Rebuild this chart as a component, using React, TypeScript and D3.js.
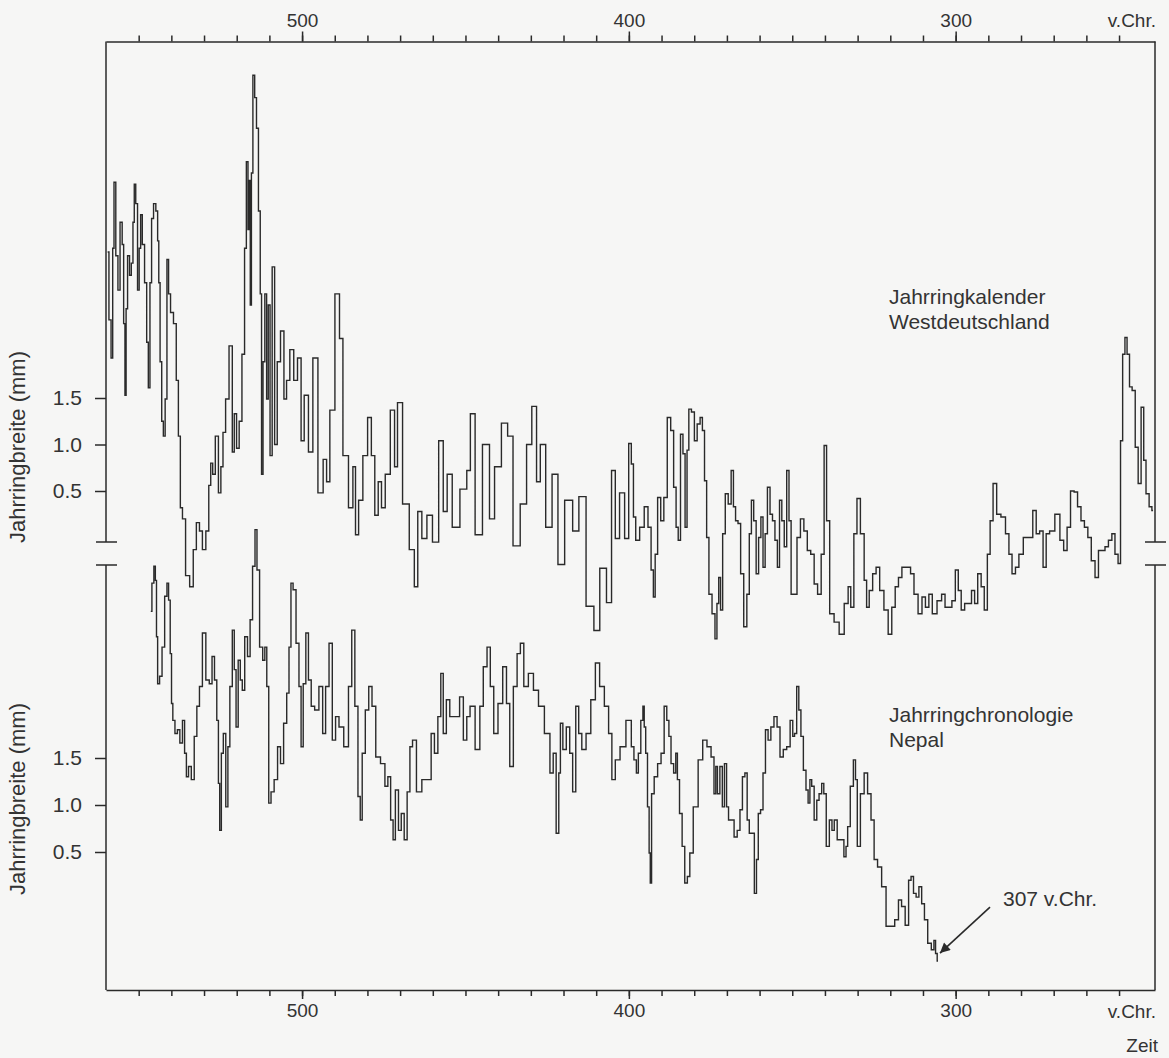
import { useEffect, useRef } from 'react'
import * as d3 from 'd3'

// Jahrringkalender Westdeutschland: [Jahr v.Chr., Jahrringbreite (mm)]
const westdeutschland: [number, number][] = [
  [559.5, 3.07], [558.7, 2.34], [558.2, 1.93], [557.7, 3.11], [557.4, 3.82], [556.6, 3.03], [556.1, 2.66],
  [555.3, 3.39], [554.8, 3.15], [554.4, 2.30], [554.0, 1.53], [553.7, 2.46], [553.1, 3.03], [552.5, 2.82],
  [552.0, 2.95], [551.5, 3.39], [551.2, 3.80], [550.6, 3.59], [550.1, 2.66], [549.6, 3.11], [549.2, 3.47],
  [548.6, 3.15], [547.8, 2.74], [547.3, 2.10], [546.8, 1.61], [546.3, 2.74], [545.8, 3.43], [545.1, 3.59],
  [544.4, 3.51], [544.0, 3.19], [543.7, 2.74], [543.2, 1.89], [542.7, 1.25], [542.2, 1.09], [541.6, 1.49],
  [541.1, 2.99], [540.6, 2.62], [539.9, 2.42], [538.8, 2.30], [538.2, 1.69], [537.5, 1.09], [537.0, 0.32],
  [536.2, 0.20], [535.1, -0.41], [533.7, -0.53], [532.9, -0.13], [531.8, 0.16], [531.0, 0.07], [530.0, -0.13],
  [528.9, 0.07], [528.2, 0.56], [527.7, 0.80], [527.0, 0.68], [526.1, 1.09], [525.1, 0.48], [524.6, 0.76],
  [523.8, 1.13], [523.0, 1.49], [521.7, 2.06], [521.0, 0.92], [520.5, 1.33], [519.6, 0.96], [518.9, 1.25],
  [517.9, 1.97], [517.3, 3.11], [516.8, 4.04], [516.3, 3.31], [516.0, 3.84], [515.7, 2.50], [515.3, 3.92],
  [514.8, 4.97], [514.2, 4.73], [513.7, 4.40], [513.0, 3.51], [512.6, 2.62], [512.2, 0.68], [511.7, 1.89],
  [511.1, 2.62], [510.6, 1.49], [510.1, 2.50], [509.5, 0.88], [508.8, 2.91], [508.0, 1.00], [507.2, 1.89],
  [506.0, 2.22], [505.1, 1.49], [504.4, 1.69], [503.1, 2.02], [502.0, 1.69], [500.8, 1.93], [499.8, 1.04],
  [498.9, 1.53], [497.2, 0.92], [496.2, 1.93], [494.1, 0.48], [493.0, 0.84], [492.0, 0.60], [491.0, 1.37],
  [488.9, 2.62], [488.2, 2.14], [486.8, 0.88], [484.8, 0.32], [484.1, 0.76], [483.2, 0.03], [482.2, 0.40],
  [480.6, 0.88], [479.3, 1.29], [478.3, 0.88], [477.2, 0.24], [476.2, 0.60], [475.2, 0.32], [473.9, 0.68],
  [472.1, 1.37], [471.3, 0.76], [470.3, 1.45], [468.2, 0.36], [466.2, -0.13], [465.1, -0.53], [464.1, 0.28],
  [462.6, -0.01], [461.0, 0.24], [459.2, -0.05], [457.2, 1.04], [456.4, 0.28], [454.8, 0.68], [453.3, 0.11],
  [450.1, 0.52], [449.1, 0.72], [447.9, 1.33], [446.2, 0.03], [443.4, 1.00], [441.9, 0.20], [440.3, 0.76],
  [437.7, 1.23], [436.5, 1.09], [434.4, -0.09], [432.1, 0.36], [430.5, 1.00], [428.9, 1.41], [427.6, 0.60],
  [426.6, 1.00], [424.3, 0.11], [422.7, 0.68], [420.7, -0.29], [418.6, 0.40], [415.8, 0.07], [414.8, 0.44],
  [411.4, -0.74], [410.0, -1.00], [407.8, -0.33], [405.9, -0.70], [404.7, 0.72], [403.6, -0.01], [402.1, 0.48],
  [400.5, -0.01], [399.6, 1.01], [398.9, 0.79], [398.3, 0.22], [397.5, -0.03], [395.9, 0.11], [394.7, 0.33],
  [393.6, 0.11], [392.8, -0.35], [392.2, -0.64], [391.7, -0.18], [390.7, 0.43], [389.8, 0.18], [388.8, 0.43],
  [387.7, 1.29], [386.7, 1.15], [385.9, 0.54], [385.2, 0.11], [384.6, -0.03], [383.8, 1.11], [383.1, 0.90],
  [382.5, 0.11], [381.9, 0.94], [381.4, 1.38], [380.3, 1.35], [379.6, 1.04], [378.6, 1.22], [377.8, 1.29],
  [377.2, 1.15], [376.5, 0.61], [375.9, 0.00], [375.1, -0.61], [374.0, -0.82], [373.3, -1.09], [372.8, -0.71],
  [372.2, -0.43], [371.7, -0.78], [370.9, 0.04], [370.1, 0.47], [369.1, 0.36], [368.3, 0.72], [367.7, 0.33],
  [367.0, 0.18], [366.2, 0.15], [365.4, -0.39], [364.3, -0.96], [363.5, -0.61], [362.8, 0.04], [362.2, 0.40],
  [361.4, 0.18], [360.7, -0.39], [359.9, 0.00], [359.3, 0.22], [358.6, -0.32], [358.0, 0.04], [357.2, 0.54],
  [356.4, 0.25], [355.7, 0.18], [354.9, -0.03], [354.2, -0.32], [353.6, 0.40], [352.8, 0.18], [352.1, -0.10],
  [351.3, 0.72], [350.7, 0.18], [350.0, -0.61], [349.1, -0.61], [348.0, 0.00], [347.0, 0.20], [345.9, 0.07],
  [344.9, -0.14], [343.8, -0.18], [342.8, -0.50], [341.7, -0.61], [340.6, -0.18], [339.9, 0.99], [339.1, 0.18],
  [338.0, -0.82], [336.4, -0.91], [334.9, -1.04], [333.3, -0.71], [332.5, -0.53], [331.7, -0.75], [330.6, 0.04],
  [329.8, 0.42], [328.5, 0.04], [327.5, -0.46], [327.0, -0.75], [325.9, -0.57], [324.9, -0.39], [323.8, -0.32],
  [322.7, -0.57], [321.2, -0.78], [320.1, -1.04], [319.0, -0.75], [318.0, -0.53], [317.0, -0.43], [315.9, -0.32],
  [314.3, -0.32], [313.3, -0.39], [312.2, -0.61], [310.8, -0.82], [309.8, -0.64], [308.7, -0.75], [307.7, -0.61],
  [306.6, -0.82], [304.8, -0.68], [303.8, -0.61], [302.7, -0.75], [301.7, -0.75], [300.6, -0.68], [299.6, -0.35],
  [298.8, -0.57], [297.8, -0.78], [296.7, -0.71], [295.7, -0.71], [294.6, -0.57], [293.8, -0.71], [292.7, -0.39],
  [291.7, -0.53], [290.8, -0.78], [289.8, -0.18], [289.1, 0.18], [288.0, 0.58], [286.9, 0.25], [285.4, 0.22],
  [284.1, 0.04], [283.3, -0.18], [282.2, -0.39], [281.2, -0.32], [280.1, -0.18], [278.5, 0.00], [276.9, 0.00],
  [275.9, 0.29], [274.8, 0.04], [273.8, 0.07], [272.7, -0.32], [271.9, 0.04], [270.6, 0.07], [268.7, 0.25],
  [267.5, -0.03], [266.4, -0.14], [265.4, 0.11], [264.3, 0.50], [263.2, 0.49], [262.2, 0.33], [261.1, 0.18],
  [260.1, 0.11], [259.0, 0.00], [258.0, -0.25], [256.7, -0.43], [255.9, -0.14], [254.8, -0.14], [253.8, -0.10],
  [252.7, -0.03], [251.7, 0.04], [250.8, -0.18], [249.8, -0.28], [249.3, 1.04], [248.5, 1.97], [247.9, 2.15],
  [247.2, 1.97], [246.4, 1.62], [245.6, 1.58], [244.5, 0.97], [243.8, 0.58], [242.7, 1.40], [242.2, 0.83],
  [241.3, 0.47], [240.3, 0.33], [239.6, 0.29]
]

// Jahrringchronologie Nepal: [Jahr v.Chr., Jahrringbreite (mm)]
const nepal: [number, number][] = [
  [546.3, 3.06], [545.6, 3.36], [545.1, 3.54], [544.7, 3.39], [544.4, 2.79], [544.0, 2.29], [543.2, 2.37],
  [542.5, 2.68], [541.6, 3.22], [541.1, 3.36], [540.6, 3.18], [540.1, 2.61], [539.8, 2.08], [539.3, 1.90],
  [538.5, 1.76], [537.8, 1.80], [537.0, 1.66], [536.2, 1.90], [535.7, 1.55], [535.1, 1.30], [534.4, 1.41],
  [533.4, 1.27], [532.6, 1.73], [531.8, 2.05], [531.0, 2.26], [530.0, 2.83], [528.9, 2.33], [527.9, 2.29],
  [527.2, 2.58], [526.4, 2.33], [525.8, 1.90], [525.4, 1.23], [525.0, 0.73], [524.4, 1.55], [523.8, 1.76],
  [522.9, 0.98], [522.5, 1.62], [521.7, 2.26], [521.0, 2.86], [520.5, 2.44], [519.9, 1.83], [519.2, 2.54],
  [518.6, 2.33], [518.0, 2.22], [517.1, 2.79], [516.3, 2.58], [515.5, 2.97], [514.8, 3.54], [514.0, 3.93],
  [513.6, 3.50], [512.4, 2.68], [511.7, 2.54], [511.1, 2.68], [510.5, 2.26], [509.9, 1.02], [509.1, 1.14],
  [508.0, 1.27], [507.0, 1.62], [506.2, 1.44], [505.1, 1.87], [504.3, 2.19], [503.7, 2.68], [503.1, 3.36],
  [502.4, 3.29], [501.3, 2.72], [500.6, 2.26], [500.0, 1.62], [499.3, 2.29], [498.4, 2.83], [497.7, 2.33],
  [496.7, 2.05], [495.6, 2.01], [494.1, 2.26], [493.3, 1.76], [492.3, 2.26], [491.2, 2.72], [490.3, 1.69],
  [489.2, 1.94], [488.2, 1.83], [486.3, 1.62], [485.3, 2.26], [484.3, 2.86], [483.4, 2.05], [482.4, 1.09],
  [482.0, 0.84], [481.2, 1.55], [480.1, 2.01], [479.1, 2.26], [478.1, 2.05], [476.8, 1.51], [475.2, 1.44],
  [474.1, 1.20], [473.4, 1.30], [472.4, 0.84], [471.9, 0.63], [471.0, 1.16], [470.0, 0.73], [469.3, 0.91],
  [468.2, 0.63], [467.5, 1.14], [466.5, 1.62], [465.9, 1.69], [464.1, 1.14], [462.6, 1.27], [461.0, 1.27],
  [460.0, 1.76], [459.0, 1.55], [457.9, 1.94], [457.2, 2.40], [456.4, 1.76], [455.3, 2.12], [454.3, 1.94],
  [452.4, 1.94], [451.2, 2.15], [450.1, 1.69], [449.1, 1.94], [448.1, 2.05], [446.0, 1.59], [445.2, 2.05],
  [443.9, 2.47], [442.9, 2.68], [441.9, 2.26], [440.8, 1.76], [439.3, 2.08], [437.9, 2.47], [437.0, 2.08],
  [435.9, 1.41], [434.8, 2.26], [433.6, 2.61], [432.8, 2.72], [431.5, 2.26], [430.0, 2.40], [428.4, 2.22],
  [426.9, 2.05], [424.8, 1.76], [423.5, 1.34], [422.8, 1.55], [421.7, 0.70], [421.2, 1.34], [420.7, 1.87],
  [419.7, 1.59], [418.6, 1.83], [417.6, 1.55], [416.8, 1.14], [415.7, 2.05], [415.0, 1.76], [413.8, 1.59],
  [412.4, 1.76], [410.9, 2.12], [409.6, 2.51], [408.3, 2.26], [406.7, 2.05], [405.7, 1.76], [404.7, 1.27],
  [403.6, 1.48], [401.8, 1.62], [400.0, 1.90], [399.6, 1.90], [398.9, 1.62], [398.0, 1.48], [397.4, 1.34],
  [396.8, 1.55], [395.9, 1.90], [395.5, 2.05], [395.1, 1.83], [394.6, 1.55], [394.0, 0.98], [393.6, 0.49],
  [393.3, 0.17], [392.8, 1.12], [391.7, 1.30], [390.7, 1.44], [389.6, 1.55], [388.8, 2.05], [388.0, 1.90],
  [387.5, 1.73], [386.7, 1.44], [385.9, 1.34], [385.4, 1.55], [384.9, 1.27], [384.1, 0.91], [383.3, 0.56],
  [382.5, 0.17], [381.7, 0.24], [381.0, 0.49], [379.6, 0.98], [378.0, 1.48], [376.8, 1.69], [375.4, 1.62],
  [374.3, 1.51], [373.6, 1.12], [373.2, 1.41], [372.6, 1.12], [371.7, 1.41], [371.1, 0.98], [370.4, 1.44],
  [369.8, 0.98], [369.2, 0.84], [368.3, 0.84], [367.3, 0.66], [366.4, 0.73], [365.6, 0.95], [364.9, 1.30],
  [364.1, 1.34], [363.5, 0.84], [362.8, 0.70], [362.0, 0.70], [361.2, 0.06], [360.7, 0.42], [360.1, 0.91],
  [359.3, 0.95], [358.6, 1.34], [357.8, 1.80], [357.0, 1.69], [356.1, 1.83], [355.1, 1.94], [354.2, 1.83],
  [353.3, 1.51], [352.2, 1.59], [351.2, 1.62], [350.1, 1.90], [349.6, 1.73], [349.0, 1.76], [348.3, 2.26],
  [347.7, 2.01], [347.0, 1.73], [346.2, 1.37], [345.4, 1.16], [344.9, 1.02], [344.3, 1.27], [343.8, 1.20],
  [342.8, 0.84], [342.2, 1.05], [341.4, 1.12], [340.6, 1.23], [340.1, 1.12], [339.1, 0.56], [338.2, 0.84],
  [337.5, 0.73], [336.8, 0.84], [335.7, 0.63], [334.6, 0.63], [333.8, 0.45], [333.3, 0.56], [332.8, 0.77],
  [331.7, 1.20], [330.9, 1.48], [330.4, 1.27], [329.8, 0.56], [328.5, 1.12], [327.5, 1.34], [326.4, 1.12],
  [325.4, 0.84], [324.5, 0.42], [323.3, 0.34], [322.0, 0.13], [320.6, -0.29], [319.3, -0.29], [318.0, -0.22],
  [317.0, -0.01], [316.1, -0.08], [314.8, -0.28], [314.0, 0.20], [313.3, 0.24], [312.5, 0.06], [311.7, 0.02],
  [310.8, 0.13], [310.0, -0.05], [309.1, -0.22], [308.0, -0.47], [306.9, -0.54], [306.4, -0.44], [305.9, -0.58],
  [305.4, -0.66]
]

const minorYears = [550, 540, 530, 520, 510, 500, 490, 480, 470, 460, 450, 440, 430, 420, 410, 400,
  390, 380, 370, 360, 350, 340, 330, 320, 310, 300, 290, 280, 270, 260, 250]
const majorYears = [500, 400, 300]
const widthTicks = [0.5, 1.0, 1.5]
const westLabel = ['Jahrringkalender', 'Westdeutschland']
const nepalLabel = ['Jahrringchronologie', 'Nepal']
const yTitle = 'Jahrringbreite (mm)'
const endLabel = '307 v.Chr.'

export default function App() {
  const svgRef = useRef<SVGSVGElement>(null)

  const width = 1169
  const height = 1058
  const left = 106, right = 1155 // frame
  const top = 41.5, bottom = 990
  const breakA = 542, breakB = 565 // axis break
  const font = '"Liberation Sans", Arial, Helvetica, sans-serif'
  const ink = '#2a2a2a'

  useEffect(() => {
    const svg = d3.select(svgRef.current)
    svg.selectAll('*').remove()

    svg.append('rect').attr('width', width).attr('height', height).attr('fill', '#f6f6f5')

    const x = d3.scaleLinear().domain([560, 239]).range([left, right])
    const yTop = d3.scaleLinear().domain([0, 1.5]).range([537.5, 398])
    const yBot = d3.scaleLinear().domain([0, 1.5]).range([899, 758])

    const g = svg.append('g').style('font-family', font)

    // top axis
    const topMinor = g.append('g').attr('transform', `translate(0,${top})`)
      .call(d3.axisTop(x).tickValues(minorYears).tickSize(6).tickSizeOuter(0).tickFormat(() => ''))
    const topMajor = g.append('g').attr('transform', `translate(0,${top})`)
      .call(d3.axisTop(x).tickValues(majorYears).tickSize(10).tickPadding(5).tickFormat(d3.format('d')))
    topMajor.select('.domain').remove()

    // bottom axis
    const botMinor = g.append('g').attr('transform', `translate(0,${bottom})`)
      .call(d3.axisBottom(x).tickValues(minorYears).tickSize(6).tickSizeOuter(0).tickFormat(() => ''))
    const botMajor = g.append('g').attr('transform', `translate(0,${bottom})`)
      .call(d3.axisBottom(x).tickValues(majorYears).tickSize(9).tickPadding(5).tickFormat(d3.format('d')))
    botMajor.select('.domain').remove()

    for (const a of [topMinor, topMajor, botMinor, botMajor]) {
      a.selectAll('path, line').attr('stroke', ink).attr('stroke-width', 1.5)
      a.selectAll('text').attr('fill', '#333').style('font-size', '19px').style('font-family', font)
    }

    // side axes with break
    for (const xx of [left, right]) {
      g.append('line').attr('x1', xx).attr('x2', xx).attr('y1', top).attr('y2', breakA)
        .attr('stroke', ink).attr('stroke-width', 1.5)
      g.append('line').attr('x1', xx).attr('x2', xx).attr('y1', breakB).attr('y2', bottom)
        .attr('stroke', ink).attr('stroke-width', 1.5)
      for (const yy of [breakA, breakB]) {
        g.append('line').attr('x1', xx - 10).attr('x2', xx + 11).attr('y1', yy).attr('y2', yy)
          .attr('stroke', ink).attr('stroke-width', 1.5)
      }
    }

    // width ticks (left)
    for (const sc of [yTop, yBot]) {
      const ax = g.append('g').attr('transform', `translate(${left},0)`)
        .call(d3.axisLeft(sc).tickValues(widthTicks).tickSize(11).tickPadding(13).tickFormat(d3.format('.1f')))
      ax.select('.domain').remove()
      ax.selectAll('line').attr('stroke', ink).attr('stroke-width', 1.5)
      ax.selectAll('text').attr('fill', '#333').style('font-size', '21px').style('font-family', font)
    }

    // y titles
    for (const cy of [447, 799]) {
      g.append('text').attr('transform', `translate(25,${cy}) rotate(-90)`)
        .attr('text-anchor', 'middle').attr('fill', '#333').style('font-size', '22px').text(yTitle)
    }

    // "v.Chr." and "Zeit"
    g.append('text').attr('x', right + 1).attr('y', top - 15).attr('text-anchor', 'end')
      .attr('fill', '#333').style('font-size', '19px').text('v.Chr.')
    g.append('text').attr('x', right + 1).attr('y', bottom + 28).attr('text-anchor', 'end')
      .attr('fill', '#333').style('font-size', '19px').text('v.Chr.')
    g.append('text').attr('x', right + 3).attr('y', bottom + 62).attr('text-anchor', 'end')
      .attr('fill', '#333').style('font-size', '19px').text('Zeit')

    // series
    const lineTop = d3.line<[number, number]>().x(d => x(d[0])).y(d => yTop(d[1])).curve(d3.curveStep)
    const lineBot = d3.line<[number, number]>().x(d => x(d[0])).y(d => yBot(d[1])).curve(d3.curveStep)
    g.append('path').attr('d', lineTop(westdeutschland)).attr('fill', 'none')
      .attr('stroke', ink).attr('stroke-width', 1.4).attr('stroke-linejoin', 'miter')
    g.append('path').attr('d', lineBot(nepal)).attr('fill', 'none')
      .attr('stroke', ink).attr('stroke-width', 1.4).attr('stroke-linejoin', 'miter')

    // series labels
    const addLabel = (lines: string[], y0: number) => {
      lines.forEach((t, i) => {
        g.append('text').attr('x', 889).attr('y', y0 + i * 25).attr('fill', '#333')
          .style('font-size', '21px').text(t)
      })
    }
    addLabel(westLabel, 304)
    addLabel(nepalLabel, 722)

    // arrow to the last Nepal year
    svg.append('defs').append('marker').attr('id', 'arrowHead')
      .attr('viewBox', '0 0 10 10').attr('refX', 10).attr('refY', 5)
      .attr('markerUnits', 'userSpaceOnUse').attr('markerWidth', 17).attr('markerHeight', 10)
      .attr('orient', 'auto')
      .append('path').attr('d', 'M0,0 L10,5 L0,10 z').attr('fill', ink)
    const last = nepal[nepal.length - 1]
    const tipX = x(last[0]) + 2
    const tipY = yBot(last[1]) - 8
    g.append('line').attr('x1', tipX + 50).attr('y1', tipY - 46).attr('x2', tipX).attr('y2', tipY)
      .attr('stroke', ink).attr('stroke-width', 1.6).attr('marker-end', 'url(#arrowHead)')
    g.append('text').attr('x', tipX + 63).attr('y', tipY - 47).attr('fill', '#333')
      .style('font-size', '21px').text(endLabel)
  }, [])

  return (
    <svg ref={svgRef} width={width} height={height}
      style={{ position: 'absolute', left: 0, top: 0, display: 'block' }} />
  )
}
